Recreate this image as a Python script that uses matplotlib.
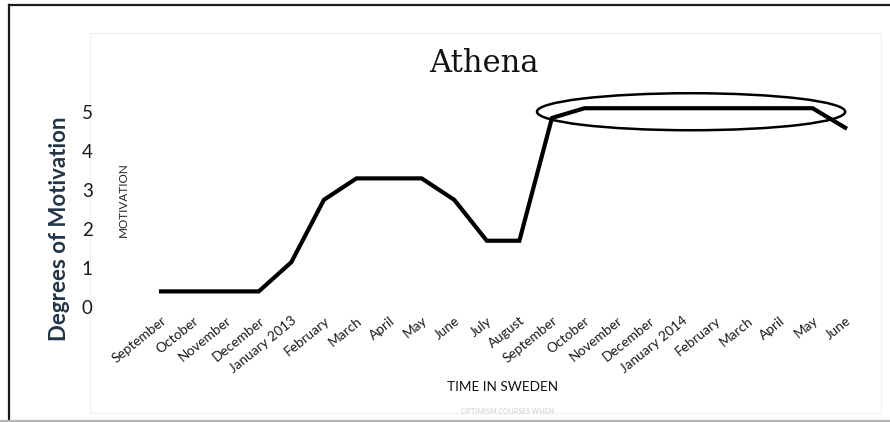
import matplotlib
matplotlib.use('Agg')
import matplotlib.pyplot as plt
from matplotlib.patches import Ellipse, Rectangle
from matplotlib.lines import Line2D

# ---- dados ----
months = ['September', 'October', 'November', 'December', 'January 2013',
          'February', 'March', 'April', 'May', 'June', 'July', 'August',
          'September', 'October', 'November', 'December', 'January 2014',
          'February', 'March', 'April', 'May', 'June']
motivation = [0.4, 0.4, 0.4, 0.4, 1.15, 2.75, 3.3, 3.3, 3.3, 2.75, 1.7, 1.7,
              4.85, 5.1, 5.1, 5.1, 5.1, 5.1, 5.1, 5.1, 5.1, 4.6]
y_ticks = [0, 1, 2, 3, 4, 5]
# destaque (elipse) em torno do platô final
hl_center = (16.27, 5.01)
hl_size = (9.46, 0.95)

W, H = 890, 422
def fx(px): return px / W
def fy(py): return 1 - py / H

fig = plt.figure(figsize=(8.9, 4.22), dpi=100)
fig.patch.set_facecolor('white')

# moldura externa
fig.add_artist(Line2D([fx(9), 1], [fy(5), fy(5)], color='#1a1a1a', lw=1.6))
fig.add_artist(Line2D([fx(9), fx(9)], [fy(5), fy(421)], color='#1a1a1a', lw=1.6))
fig.add_artist(Line2D([0, 1], [fy(421), fy(421)], color='#b5b5b5', lw=1.6))

# caixa interna (área do gráfico)
fig.add_artist(Rectangle((fx(90), fy(413)), fx(881) - fx(90), fy(33) - fy(413),
                         fill=False, edgecolor='#efefef', lw=0.8, zorder=0))

ax = fig.add_axes([fx(90), fy(413), fx(881) - fx(90), fy(33) - fy(413)])
ax.patch.set_visible(False)
ax.set_xlim(-2.18, 22.1)
ax.set_ylim(-2.72, 7.03)
for s in ['top', 'right', 'left', 'bottom']:
    ax.spines[s].set_visible(False)
ax.spines['bottom'].set_position(('data', -0.12))
ax.spines['left'].set_position(('data', -2.1))

ax.plot(range(len(months)), motivation, color='black', lw=3.0,
        solid_joinstyle='miter')
ax.add_patch(Ellipse(hl_center, hl_size[0], hl_size[1], fill=False,
                     edgecolor='black', lw=1.8))

ax.set_xticks(range(len(months)))
ax.set_xticklabels(months, rotation=39, ha='right', va='top',
                   rotation_mode='anchor', fontsize=9.8, family='Lato',
                   color='#1a1a1a')
ax.set_yticks(y_ticks)
ax.set_yticklabels([str(v) for v in y_ticks], fontsize=13.5, family='Lato',
                   color='#1a1a1a')
ax.tick_params(axis='both', length=0)
ax.tick_params(axis='y', pad=0)
ax.tick_params(axis='x', pad=2)

# textos
fig.text(fx(484), fy(64), 'Athena', ha='center', va='center',
         fontsize=22, family='DejaVu Serif', color='#111111')
fig.text(fx(59), fy(229), 'Degrees of Motivation', rotation=90,
         ha='center', va='center', fontsize=16, fontweight='bold',
         family='Lato', color='#243447')
fig.text(fx(123), fy(200), 'MOTIVATION', rotation=90, ha='center',
         va='center', fontsize=8.5, family='Lato', color='#222222')
fig.text(fx(503), fy(387), 'TIME IN SWEDEN', ha='center', va='center',
         fontsize=9.8, family='Lato', color='#111111')
# texto quase apagado no rodapé
fig.text(fx(508), fy(411), 'OPTIMISM COURSES WHEN', ha='center',
         va='center', fontsize=5, fontweight='bold', family='Lato',
         color='#dadada')

fig.savefig('out.png', dpi=100)
